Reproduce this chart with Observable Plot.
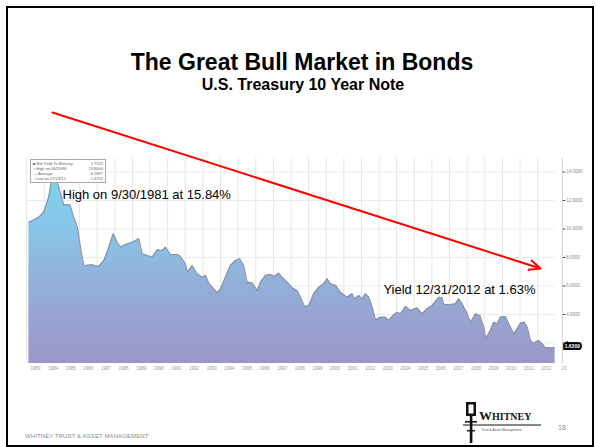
<!DOCTYPE html>
<html>
<head>
<meta charset="utf-8">
<script src="https://cdn.jsdelivr.net/npm/d3@7"></script>
<script src="https://cdn.jsdelivr.net/npm/@observablehq/plot@0.6"></script>
<style>
  html, body { margin: 0; padding: 0; background: #fff; }
  body { width: 596px; height: 447px; position: relative; overflow: hidden; font-family: "Liberation Sans", Arial, sans-serif; }
  #border { position: absolute; left: 6px; top: 6px; width: 588px; height: 441px; border: 2px solid #000; box-sizing: border-box; }
  #title { position: absolute; left: 0; width: 604px; top: 51px; text-align: center; font-weight: bold; font-size: 23px; line-height: 23px; color: #000; }
  #subtitle { position: absolute; left: 0; width: 606px; top: 77px; text-align: center; font-weight: bold; font-size: 16px; line-height: 16px; color: #000; }
  #chart { position: absolute; left: 0; top: 100px; }
  #legend { position: absolute; left: 30px; top: 159px; width: 76px; height: 24px; background: #fff; border: 1px solid #a8a8a8; box-sizing: border-box; padding: 1px 2px; font-size: 4px; line-height: 5px; color: #666; }
  #legend .row { display: flex; justify-content: space-between; white-space: nowrap; }
  #footer { position: absolute; left: 25px; top: 433px; font-size: 6px; line-height: 6px; color: #8a8a8a; letter-spacing: 0.1px; }
  #page { position: absolute; left: 558px; top: 424px; font-size: 7px; line-height: 7px; color: #8a8a8a; }
  #logo { position: absolute; left: 463px; top: 399px; }
</style>
</head>
<body>
<div id="border"></div>
<div id="title">The Great Bull Market in Bonds</div>
<div id="subtitle">U.S. Treasury 10 Year Note</div>
<div id="chart"></div>
<div id="legend"></div>
<div id="footer">WHITNEY TRUST &amp; ASSET MANAGEMENT</div>
<svg id="logo" width="82" height="46" viewBox="0 0 82 46">
  <rect x="3" y="3" width="10" height="14" fill="#111"/>
  <rect x="5.5" y="5.5" width="5" height="9" fill="#fff"/>
  <rect x="6.8" y="17" width="2.6" height="27" fill="#111"/>
  <rect x="2" y="22" width="12" height="1.6" fill="#111"/>
  <rect x="4" y="31" width="8" height="1.4" fill="#111"/>
  <text x="16" y="21" font-family="Liberation Serif, DejaVu Serif, serif" font-weight="bold" fill="#111"><tspan font-size="13">W</tspan><tspan font-size="10">HITNEY</tspan></text>
  <line x1="0" y1="26" x2="78" y2="26" stroke="#111" stroke-width="1"/>
  <text x="18" y="32" font-family="Liberation Sans, Arial, sans-serif" font-size="3.4" fill="#555">Trust &amp; Asset Management</text>
</svg>
<div id="page">18</div>
<script>
// ---- data ----
const dates = [
  "1983-02-15","1983-09-10","1983-12-20",
  "1984-04-01","1984-06-25","1984-10-08",
  "1985-01-08","1985-02-10","1985-06-15","1985-09-01","1985-11-15",
  "1986-01-20","1986-03-28","1986-09-20",
  "1987-02-01","1987-05-18","1987-08-08","1987-10-18","1987-11-28",
  "1988-02-20","1988-04-28","1988-08-10","1988-12-28",
  "1989-05-12","1989-07-22","1989-11-03",
  "1990-02-14","1990-05-30","1990-09-10","1990-11-16",
  "1991-02-28","1991-07-15","1991-09-24",
  "1992-01-05","1992-02-10","1992-05-22","1992-09-05","1992-12-17",
  "1993-02-25","1993-05-05","1993-08-15","1993-10-30",
  "1994-01-01","1994-04-12","1994-07-26","1994-11-06",
  "1995-02-03","1995-04-25","1995-07-05","1995-10-18",
  "1996-01-30","1996-04-08","1996-07-20","1996-11-02",
  "1997-01-08","1997-04-22","1997-07-01","1997-10-12",
  "1998-01-25","1998-05-08","1998-07-15","1998-10-08",
  "1999-01-05","1999-04-16","1999-07-30","1999-11-10",
  "2000-01-20","2000-03-28","2000-07-12","2000-10-23",
  "2001-03-10","2001-06-20","2001-08-08","2001-11-05",
  "2002-01-15","2002-03-25","2002-06-03","2002-08-11","2002-10-19",
  "2003-01-30","2003-05-12","2003-07-19","2003-10-18",
  "2004-01-10","2004-03-18","2004-07-01","2004-10-12",
  "2005-02-28","2005-06-12","2005-09-23",
  "2006-01-04","2006-05-22","2006-07-30","2006-09-02",
  "2007-01-18","2007-05-03","2007-07-08","2007-09-20",
  "2008-01-01","2008-03-10","2008-06-22","2008-09-20","2008-12-10",
  "2009-01-20","2009-04-26","2009-07-05","2009-09-12","2009-11-20",
  "2010-03-03","2010-05-12","2010-08-24","2010-11-02",
  "2011-01-10","2011-04-01","2011-05-30","2011-08-05","2011-10-12",
  "2012-01-22","2012-04-04","2012-06-10","2012-09-24","2012-12-31"
];
const yields = [
  10.48, 10.83, 11.18,
  12.23, 13.90, 13.17,
  12.00, 11.70, 11.70, 10.83, 10.13,
  8.72, 7.44, 7.49,
  7.37, 7.79, 8.49, 9.24, 9.66,
  9.07, 8.72, 8.91, 9.07,
  9.31, 8.26, 8.14,
  8.02, 8.54, 8.49, 8.72,
  8.21, 8.21, 8.07,
  7.56, 6.97, 7.44, 6.86, 6.62,
  6.74, 6.18, 5.80, 5.54,
  5.80, 6.62, 7.44, 7.79,
  7.91, 7.44, 6.27, 6.22,
  5.68, 6.27, 6.74, 6.81,
  6.67, 6.90, 6.62, 6.27,
  5.87, 5.68, 5.21, 4.56,
  4.63, 5.45, 5.92, 6.15,
  6.51, 6.15, 6.04, 5.56,
  5.21, 5.45, 5.10, 5.33,
  5.10, 5.45, 5.21, 4.51, 3.63,
  3.81, 3.81, 3.58, 3.93,
  4.16, 4.05, 4.56, 4.28,
  4.47, 4.05, 4.40,
  4.63, 5.21, 5.17, 4.70,
  4.70, 4.75, 5.10, 4.75,
  4.05, 3.46, 4.05, 3.93, 3.11,
  2.29, 2.88, 3.46, 3.35, 3.81,
  3.86, 3.35, 2.65, 3.00,
  3.39, 3.46, 3.11, 2.18, 1.99,
  2.18, 1.94, 1.66, 1.66, 1.68
];
const yearLabels = [1983,1984,1985,1986,1987,1988,1989,1990,1991,1992,1993,1994,1995,1996,1997,
  1998,1999,2000,2001,2002,2003,2004,2005,2006,2007,2008,2009,2010,2011,2012,2013];
const yTicks = [2, 4, 6, 8, 10, 12, 14];
const lastYield = 1.63;
const legendRows = [
  ["\u25A0 Bid Yield To Maturity", "1.7555"],
  ["\u2191 High on 06/29/84", "13.8600"],
  ["\u2192 Average", "6.2897"],
  ["\u2193 Low on 07/24/12", "1.4752"]
];
const annotations = [
  {date: "1985-01-12", y: 12.14, text: "High on 9/30/1981 at 15.84%"},
  {date: "2003-04-01", y: 5.47, text: "Yield 12/31/2012 at 1.63%"}
];
const trendArrow = [{d1: "1984-06-18", v1: 18.18, d2: "2012-03-01", v2: 7.23}];

// ---- build ----
const data = dates.map((d, i) => ({date: new Date(d), y: yields[i]}));
const xStart = new Date("1983-01-01"), xEnd = new Date("2013-01-01");
const yearBounds = yearLabels.slice(0, -1).map(y => new Date(`${y}-01-01`));
const labelTicks = yearLabels.map(y => new Date(`${y}-07-02`));

const gradient = (index, scales, values, dims) => {
  const defs = d3.create("svg:defs");
  const lg = defs.append("linearGradient").attr("id", "bondGrad")
    .attr("gradientUnits", "userSpaceOnUse")
    .attr("x1", 0).attr("x2", 0)
    .attr("y1", dims.marginTop).attr("y2", dims.height - dims.marginBottom);
  [[0, "#76d8f3"], [0.35, "#88c5e7"], [0.6, "#92b0da"], [0.85, "#999fcf"], [1, "#9c96c8"]]
    .forEach(([o, c]) => lg.append("stop").attr("offset", o).attr("stop-color", c));
  return defs.node();
};

const chart = Plot.plot({
  width: 596,
  height: 280,
  marginLeft: 26.2,
  marginRight: 41.2,
  marginTop: 58,
  marginBottom: 17,
  x: {type: "utc", domain: [xStart, xEnd]},
  y: {domain: [0.56, 14.95]},
  style: {fontFamily: "'Liberation Sans', Arial, sans-serif", background: "transparent", overflow: "visible"},
  marks: [
    gradient,
    Plot.gridX(yearBounds, {stroke: "#e6e6e6", strokeOpacity: 1}),
    Plot.gridY(yTicks, {stroke: "#ececec", strokeOpacity: 1}),
    Plot.areaY(data, {x: "date", y: "y", fill: "url(#bondGrad)", clip: true}),
    Plot.lineY(data, {x: "date", y: "y", stroke: "#8a93a3", strokeWidth: 1.2, clip: true}),
    Plot.ruleX([xEnd], {dx: 7, stroke: "#d0d0d0"}),
    Plot.axisX(labelTicks, {tickSize: 0, tickPadding: 3, fontSize: 4.5, fill: "#9a9a9a",
      tickFormat: d => { const y = d.getUTCFullYear(); return y === 2013 ? "13" : String(y); }}),
    // the 2.0000 label is hidden under the last-value box, as in the reference
    Plot.axisY(yTicks, {anchor: "right", dx: 7, tickSize: 2.5, tickPadding: 1.5, fontSize: 4.5, fill: "#8a8a8a", stroke: "#444",
      tickFormat: d => d === 2 ? "" : d.toFixed(4)}),
    Plot.text([lastYield], {x: () => xEnd, y: d => d, text: d => d.toFixed(4), dx: 17, dy: -2,
      fill: "white", stroke: "black", strokeWidth: 4, strokeLinejoin: "miter", paintOrder: "stroke",
      fontSize: 5, fontWeight: "bold"}),
    Plot.arrow(trendArrow, {x1: d => new Date(d.d1), y1: "v1", x2: d => new Date(d.d2), y2: "v2",
      stroke: "#ff0000", strokeWidth: 2, headLength: 9, headAngle: 48}),
    Plot.text(annotations, {x: d => new Date(d.date), y: "y", text: "text", textAnchor: "start",
      lineAnchor: "bottom", fontSize: 13, fill: "#000"})
  ]
});
document.getElementById("chart").appendChild(chart);

const legend = d3.select("#legend");
legendRows.forEach(([a, b]) => {
  const r = legend.append("div").attr("class", "row");
  r.append("span").text(a);
  r.append("span").text(b);
});
</script>
</body>
</html>
